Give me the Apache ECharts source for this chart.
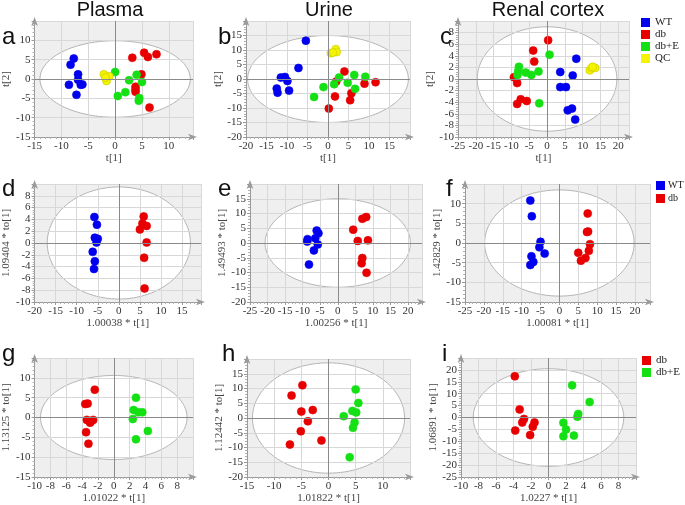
<!DOCTYPE html>
<html><head><meta charset="utf-8">
<script src="https://cdn.jsdelivr.net/npm/echarts@6/dist/echarts.min.js"></script>
<style>html,body{margin:0;padding:0;background:#fff}#c{width:685px;height:505px}</style>
</head><body><div id="c"></div>
<script>
// ---------- data ----------
const titles = ['Plasma', 'Urine', 'Renal cortex'];
const panelLetters = ['a', 'b', 'c', 'd', 'e', 'f', 'g', 'h', 'i'];
const xNames = ['t[1]', 't[1]', 't[1]', '1.00038 * t[1]', '1.00256 * t[1]', '1.00081 * t[1]', '1.01022 * t[1]', '1.01822 * t[1]', '1.0227 * t[1]'];
const yNames = ['t[2]', 't[2]', 't[2]', '1.09404 * to[1]', '1.49493 * to[1]', '1.42829 * to[1]', '1.13125 * to[1]', '1.12442 * to[1]', '1.06891 * to[1]'];
const xMin = [-15, -20, -25, -20, -25, -25, -10, -15, -10];
const xMax = [14.5, 20, 23, 19.5, 24, 24, 10, 15, 10];
const xStep = [5, 5, 5, 5, 5, 5, 2, 5, 2];
const yMin = [-15, -20, -10, -10, -20, -15, -15, -20, -25];
const yMax = [15, 20, 10, 10, 20, 15, 15, 20, 25];
const yStep = [5, 5, 2, 2, 5, 5, 5, 5, 5];
const ellipseRX = [14, 19.6, 19.6, 17, 20.7, 19.8, 9.25, 14, 8.6];
const ellipseRY = [9.9, 15, 9, 9.5, 15, 13.5, 10.6, 18.7, 20.5];

const aWT = [[-7.7,5.3],[-8.3,3.7],[-6.9,1.2],[-6.9,-0.2],[-8.6,-1.5],[-6.4,-1.5],[-6.1,-1.4],[-7.2,-4.1]];
const aDb = [[5.4,6.8],[6.1,5.7],[7.7,6.4],[3.2,5.5],[4.9,1.2],[3.8,-2.0],[3.8,-2.7],[3.8,-3.3],[6.4,-7.4]];
const aDbE = [[0,1.8],[2.6,-0.3],[4.0,1.1],[5.0,-0.8],[1.9,-3.4],[0.5,-4.4],[4.5,-4.9],[4.4,-5.6]];
const aQC = [[-2.1,1.2],[-1.1,0.7],[-1.6,-0.5],[-1.8,0.4]];

const bWT = [[-5.4,13.2],[-7.2,3.8],[-11.5,0.5],[-10.5,0.7],[-9.9,-0.7],[-12.5,-3.3],[-12.3,-4.7],[-9.5,-4.0]];
const bDb = [[4.0,2.6],[2.0,-0.9],[1.7,-6.0],[0.2,-10.2],[5.7,-4.9],[5.4,-7.3],[8.9,-1.6],[11.6,-1.1]];
const bDbE = [[-3.4,-6.2],[-1.1,-2.8],[1.5,-1.8],[2.7,0.5],[4.8,-1.3],[6.4,1.4],[6.6,-3.4],[9.1,0.8]];
const bQC = [[0.7,8.9],[1.9,10.3],[2.1,9.3],[1.2,9.1]];

const cWT = [[8.2,3.5],[3.7,1.2],[7.2,0.6],[3.7,-1.4],[5.3,-1.4],[5.8,-5.4],[7.0,-5.1],[7.9,-7.0]];
const cDb = [[0.3,6.7],[-3.9,4.9],[-3.6,3.0],[-9.3,0.3],[-8.4,-0.7],[-7.4,-3.5],[-8.4,-4.3],[-5.7,-3.8]];
const cDbE = [[0.7,4.2],[-7.9,2.1],[-8.1,1.4],[-8.3,0.7],[-6.0,1.1],[-4.4,0.7],[-2.4,1.3],[-2.2,-4.2]];
const cQC = [[12.0,1.5],[12.5,1.9],[13.5,1.9],[12.8,2.1]];

const dWT = [[-5.8,4.4],[-5.2,3.1],[-5.7,0.9],[-5.0,0.7],[-5.3,0.1],[-6.2,-1.5],[-5.7,-3.1],[-5.9,-4.4]];
const dDb = [[5.9,4.5],[5.6,3.3],[6.6,2.9],[5.0,2.3],[6.6,0.1],[6.0,-2.5],[6.1,-7.7]];

const eWT = [[-6.0,4.2],[-5.5,3.3],[-6.4,1.6],[-8.6,1.3],[-8.7,0.5],[-5.7,-0.5],[-6.8,-2.5],[-8.2,-7.3]];
const eDb = [[7.0,8.2],[8.1,8.8],[4.4,4.5],[5.7,0.7],[8.6,0.9],[7.0,-5.1],[6.8,-6.9],[8.2,-10.1]];

const fWT = [[-7.7,10.8],[-7.3,6.8],[-5.0,0.3],[-5.3,-1.1],[-3.9,-2.7],[-7.4,-3.4],[-6.9,-4.8],[-7.7,-5.6]];
const fDb = [[7.5,7.5],[7.3,2.8],[7.6,2.9],[8.1,-0.3],[7.8,-2.0],[5.0,-2.5],[6.9,-3.8],[5.7,-4.5]];

const gDb = [[-2.4,7.0],[-3.6,3.4],[-3.3,3.5],[-3.4,-0.6],[-2.9,-1.1],[-2.6,-0.6],[-3.0,-1.3],[-3.5,-3.7],[-3.2,-6.6]];
const gDbE = [[2.8,5.0],[2.5,1.9],[3.1,1.3],[3.6,1.3],[2.4,-0.4],[4.3,-3.4],[2.8,-5.5]];

const hDb = [[-4.8,11.1],[-6.8,7.6],[-5.0,2.2],[-2.9,2.7],[-3.8,-1.1],[-5.1,-4.5],[-7.1,-9.0],[-1.3,-7.6]];
const hDbE = [[5.0,9.7],[5.5,5.1],[4.4,2.4],[5.1,1.9],[2.8,0.6],[4.8,-1.5],[4.5,-3.3],[3.9,-13.3]];

const iDb = [[-3.85,17.3],[-3.3,3.4],[-2.8,-0.6],[-3.0,-2.1],[-1.6,-2.1],[-1.8,-3.9],[-3.8,-5.5],[-2.1,-7.4]];
const iDbE = [[2.7,13.5],[4.7,6.5],[3.4,1.5],[3.3,0.3],[1.7,-2.2],[2.0,-5.0],[1.7,-7.9],[2.9,-7.6]];

// groups per panel: [name, data]
const panelSeries = [
  [['WT', aWT], ['db', aDb], ['db+E', aDbE], ['QC', aQC]],
  [['WT', bWT], ['db', bDb], ['db+E', bDbE], ['QC', bQC]],
  [['WT', cWT], ['db', cDb], ['db+E', cDbE], ['QC', cQC]],
  [['WT', dWT], ['db', dDb]],
  [['WT', eWT], ['db', eDb]],
  [['WT', fWT], ['db', fDb]],
  [['db', gDb], ['db+E', gDbE]],
  [['db', hDb], ['db+E', hDbE]],
  [['db', iDb], ['db+E', iDbE]]
];

// ---------- layout & style ----------
const gridBoxes = [
  [31, 21, 162, 116], [246, 21, 164, 116], [458, 21, 171, 116],
  [32, 184, 169, 118], [250, 184, 172, 118], [465, 184, 185, 118],
  [32, 358, 161, 119], [247, 359, 163, 118], [461, 358, 175, 119]
];
const colors = { 'WT': '#0000ee', 'db': '#e80000', 'db+E': '#14e014', 'QC': '#f4f400' };
const serif = 'Liberation Serif';
const sans = 'Liberation Sans';
const titleX = [110, 329, 548];
const letterPos = [[2, 37], [218, 37], [440, 37], [2, 189], [218, 189], [446, 189], [2, 354], [222, 354], [442, 354]];

const grid = [], xAxis = [], yAxis = [], series = [];
const axisLineStyle = { color: '#9a9a9a', width: 1 };
for (let p = 0; p < 9; p++) {
  const b = gridBoxes[p];
  grid.push({ left: b[0], top: b[1], width: b[2], height: b[3], show: true, backgroundColor: '#efefef', borderWidth: 0, containLabel: false });
  const common = {
    gridIndex: p, type: 'value', z: 2,
    axisLine: { show: true, onZero: false, lineStyle: axisLineStyle, symbol: ['none', 'arrow'], symbolSize: [5, 9], symbolOffset: [0, 4] },
    axisTick: { show: true, length: 3, lineStyle: axisLineStyle },
    minorTick: { show: true, splitNumber: 5, length: 2, lineStyle: { color: '#b0b0b0' } },
    splitLine: { show: true, lineStyle: { color: '#d8d8d8', width: 1 } },
    nameLocation: 'middle',
    nameTextStyle: { fontFamily: serif, fontSize: 11, color: '#444' }
  };
  xAxis.push(Object.assign({}, common, {
    min: xMin[p], max: xMax[p], interval: xStep[p],
    axisLabel: { showMaxLabel: false, showMinLabel: true, hideOverlap: false, fontFamily: serif, fontSize: 11, color: '#333', margin: 4 },
    name: xNames[p], nameGap: 16
  }));
  yAxis.push(Object.assign({}, common, {
    min: yMin[p], max: yMax[p], interval: yStep[p],
    axisLabel: { showMaxLabel: false, showMinLabel: true, hideOverlap: false, fontFamily: serif, fontSize: 11, color: '#333', margin: 4 },
    name: yNames[p], nameGap: 19
  }));
  // Hotelling ellipse (white interior)
  series.push({
    type: 'custom', xAxisIndex: p, yAxisIndex: p, z: 1, silent: true,
    data: [[0, 0, ellipseRX[p], ellipseRY[p]]],
    encode: { x: 0, y: 1 },
    renderItem: function (params, api) {
      const rx = api.value(2), ry = api.value(3);
      const pts = [];
      for (let k = 0; k <= 120; k++) {
        const t = k / 120 * 2 * Math.PI;
        pts.push(api.coord([rx * Math.cos(t), ry * Math.sin(t)]));
      }
      return { type: 'polygon', shape: { points: pts }, style: { fill: '#ffffff', stroke: '#b5b5b5', lineWidth: 1 } };
    }
  });
  panelSeries[p].forEach(function (g, gi) {
    const s = {
      type: 'scatter', name: g[0], xAxisIndex: p, yAxisIndex: p, z: 4,
      data: g[1], symbol: 'circle', symbolSize: 8,
      itemStyle: { color: colors[g[0]], opacity: 1, borderColor: g[0] === 'QC' ? '#c9c900' : colors[g[0]], borderWidth: 0.6 },
      emphasis: { disabled: true }
    };
    if (gi === 0) {
      s.markLine = {
        silent: true, symbol: ['none', 'none'], label: { show: false },
        lineStyle: { color: '#8a8a8a', type: 'solid', width: 1 },
        emphasis: { disabled: true },
        data: [{ xAxis: 0 }, { yAxis: 0 }]
      };
    }
    series.push(s);
  });
}

const graphic = [];
titles.forEach(function (t, i) {
  graphic.push({ type: 'text', x: titleX[i], y: 10, style: { text: t, fontFamily: sans, fontSize: 20, fill: '#111', align: 'center', verticalAlign: 'middle' } });
});
panelLetters.forEach(function (t, i) {
  graphic.push({ type: 'text', x: letterPos[i][0], y: letterPos[i][1], style: { text: t, fontFamily: sans, fontSize: 24, fill: '#111', align: 'left', verticalAlign: 'middle' } });
});

const legendCommon = {
  orient: 'vertical', icon: 'rect', itemWidth: 9, itemHeight: 9, itemGap: 1,
  textStyle: { fontFamily: serif, fontSize: 11, color: '#222', lineHeight: 11 },
  itemStyle: { borderWidth: 0 }, selectedMode: false, padding: 0
};
const legend = [
  Object.assign({}, legendCommon, { left: 641, top: 17, data: ['WT', 'db', 'db+E', 'QC'] }),
  Object.assign({}, legendCommon, { left: 656, top: 180, itemGap: 2, data: ['WT', 'db'],
    textStyle: { fontFamily: serif, fontSize: 10, color: '#222', lineHeight: 11, padding: [0, 0, 0, -2] } }),
  Object.assign({}, legendCommon, { left: 642, top: 355, data: ['db', 'db+E'] })
];

const chart = echarts.init(document.getElementById('c'), null, { renderer: 'canvas' });
chart.setOption({
  animation: false,
  backgroundColor: '#ffffff',
  grid: grid, xAxis: xAxis, yAxis: yAxis, series: series, legend: legend, graphic: graphic
});
</script></body></html>
